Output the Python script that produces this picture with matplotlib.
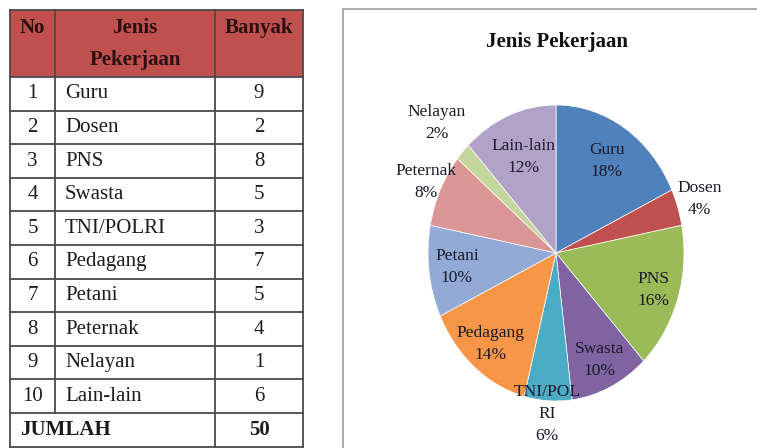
import matplotlib.pyplot as plt
from matplotlib.patches import Rectangle
import numpy as np

# data from the table
numbers = [1, 2, 3, 4, 5, 6, 7, 8, 9, 10]
jobs = ['Guru', 'Dosen', 'PNS', 'Swasta', 'TNI/POLRI', 'Pedagang',
        'Petani', 'Peternak', 'Nelayan', 'Lain-lain']
counts = [9, 2, 8, 5, 3, 7, 5, 4, 1, 6]
total_label = 'JUMLAH'
title = 'Jenis Pekerjaan'

# pie styling (Excel 2007 style palette)
colors = ['#4F81BD', '#C0504D', '#9BBB59', '#8064A2', '#4BACC6', '#F79646',
          '#94AAD6', '#D99694', '#C3D69B', '#B3A2C7']
label_radius = [0.74, 1.18, 0.8, 0.8, 1.09, 0.8, 0.78, 1.12, 1.28, 0.7]
wrapped = {'TNI/POLRI': 'TNI/POL\nRI'}

serif = 'Liberation Serif'
fig = plt.figure(figsize=(7.57, 4.48), dpi=100)

# background axes in pixel coordinates for the table and chart frame
bg = fig.add_axes([0, 0, 1, 1])
bg.set_xlim(0, 757)
bg.set_ylim(448, 0)
bg.axis('off')

cols = [10, 55, 215, 303]
top, head_bot, row_h = 10, 77, 33.6
line_c = '#4a4a4a'
bg.add_patch(Rectangle((cols[0], top), cols[-1] - cols[0], head_bot - top,
                       facecolor='#C0504D', edgecolor='none'))
n_rows = len(jobs) + 1
bottom = head_bot + n_rows * row_h
for x in cols:
    if x == cols[1]:
        bg.plot([x, x], [top, head_bot + len(jobs) * row_h], color=line_c, lw=1.3)
    else:
        bg.plot([x, x], [top, bottom], color=line_c, lw=1.3)
bg.plot([cols[0], cols[-1]], [top, top], color=line_c, lw=1.3)
for i in range(n_rows + 1):
    y = head_bot + i * row_h
    bg.plot([cols[0], cols[-1]], [y, y], color=line_c, lw=1.3)

tc = '#1c1c1c'
hc = '#2a1010'
hfs = 15
bg.text((cols[0] + cols[1]) / 2, 28, 'No', ha='center', va='center',
        fontsize=hfs, fontweight='bold', family=serif, color=hc)
bg.text((cols[1] + cols[2]) / 2, 28, 'Jenis', ha='center', va='center',
        fontsize=hfs, fontweight='bold', family=serif, color=hc)
bg.text((cols[1] + cols[2]) / 2, 60, 'Pekerjaan', ha='center', va='center',
        fontsize=hfs, fontweight='bold', family=serif, color=hc)
bg.text((cols[2] + cols[3]) / 2, 28, 'Banyak', ha='center', va='center',
        fontsize=hfs, fontweight='bold', family=serif, color=hc)

fs = 15
for i, (n, j, c) in enumerate(zip(numbers, jobs, counts)):
    yc = head_bot + (i + 0.5) * row_h
    bg.text((cols[0] + cols[1]) / 2, yc, str(n), ha='center', va='center',
            fontsize=fs, family=serif, color=tc)
    bg.text(cols[1] + 10, yc, j, ha='left', va='center',
            fontsize=fs, family=serif, color=tc)
    bg.text((cols[2] + cols[3]) / 2, yc, str(c), ha='center', va='center',
            fontsize=fs, family=serif, color=tc)
yc = head_bot + (len(jobs) + 0.5) * row_h
bg.text(cols[0] + 10, yc, total_label, ha='left', va='center', fontsize=15,
        fontweight='bold', family=serif, color=tc)
bg.text((cols[2] + cols[3]) / 2, yc, str(sum(counts)), ha='center', va='center',
        fontsize=15, fontweight='bold', family=serif, color=tc)

# chart frame
bg.add_patch(Rectangle((343, 9), 430, 450, facecolor='white',
                       edgecolor='#a0a0a0', lw=1.2, zorder=0))
bg.text(557, 42, title, ha='center', va='center', fontsize=15,
        fontweight='bold', family=serif, color='#111111')

# pie chart (slightly stretched vertically like the original)
ax = fig.add_axes([428 / 757, 1 - 401 / 448, 256 / 757, 296 / 448])
wedges, _ = ax.pie(counts, colors=colors, startangle=90, counterclock=False,
                   wedgeprops=dict(edgecolor='white', linewidth=0.5))
ax.set_aspect('auto')
ax.set_xlim(-1, 1)
ax.set_ylim(-1, 1)
ax.axis('off')

total = sum(counts)
for w, name, c, r in zip(wedges, jobs, counts, label_radius):
    ang = np.deg2rad((w.theta1 + w.theta2) / 2)
    txt = '%s\n%d%%' % (wrapped.get(name, name), round(c / total * 100))
    ax.text(r * np.cos(ang), r * np.sin(ang), txt, ha='center', va='center',
            fontsize=12.5, family=serif, color='#1a1a2a', linespacing=1.5)

fig.savefig('out.png', dpi=100)
